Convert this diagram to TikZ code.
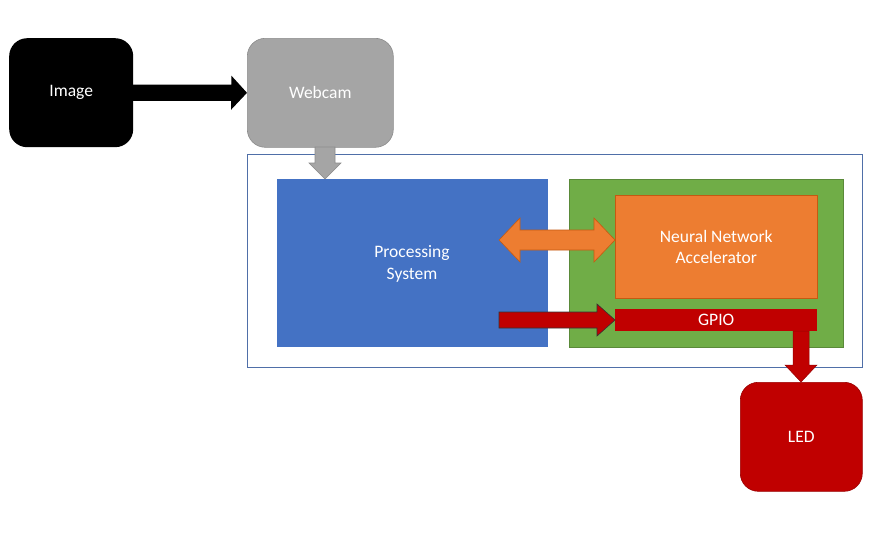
\documentclass[tikz,border=0pt]{standalone}
\usepackage{fontspec}
\setmainfont{Carlito}
\usetikzlibrary{calc}
\definecolor{cgray}{HTML}{A5A5A5}
\definecolor{cgrayd}{HTML}{8C8C8C}
\definecolor{cblue}{HTML}{4472C4}
\definecolor{cgreen}{HTML}{70AD47}
\definecolor{corange}{HTML}{ED7D31}
\definecolor{corangd}{HTML}{C55A11}
\definecolor{cred}{HTML}{C00000}
\definecolor{credd}{HTML}{8B0000}
\definecolor{cframe}{HTML}{4F6FA8}
\tikzset{
  lbl/.style={text=white, font=\fontsize{17.5}{21.5}\selectfont, align=center, inner sep=0pt},
  rbox/.style={rounded corners=18pt, minimum width=124pt, minimum height=109pt, lbl},
  sbox/.style={lbl, anchor=north west},
}
\begin{document}
\begin{tikzpicture}[x=1pt,y=-1pt]
\useasboundingbox[fill=white] (0,0) rectangle (879,547);
% outer frame
\node[draw=cframe, line width=0.8pt, anchor=north west, minimum width=615pt, minimum height=213pt, inner sep=0pt] (frame) at (247,154) {};
% top boxes
\node[rbox, fill=black, anchor=north west] (img) at (9,38) {Image};
\node[rbox, fill=cgray, draw=cgrayd, line width=0.6pt, anchor=north west, minimum width=146pt] (cam) at (247,38) {Webcam};
% processing system
\node[sbox, fill=cblue, minimum width=271pt, minimum height=168pt] (ps) at (277,179) {};
\node[lbl] at (412,264) {Processing\\System};
% green
\node[sbox, fill=cgreen, draw=cgreen!80!black, line width=0.4pt, minimum width=274pt, minimum height=168pt] (pl) at (569,179) {};
\node[sbox, fill=corange, draw=corangd, line width=0.5pt, minimum width=202pt, minimum height=103pt] (nna) at (615,195) {};
\node[lbl] at (nna.center) {Neural Network\\Accelerator};
\node[sbox, fill=cred, minimum width=202pt, minimum height=22pt] (gpio) at (615,309) {};
\node[lbl] at (gpio.center) {GPIO};
% LED
\node[rbox, fill=cred, draw=credd!70!cred, line width=0.6pt, anchor=north west, minimum width=122pt] (led) at (740,382) {LED};
% arrow image -> webcam
\fill[black] ($(img.east)+(-1,-8)$) -- ++(99,0) -- ++(0,-9) -- (cam.west) -- ++(-16,17) -- ++(0,-9) -- ++(-99,0) -- cycle;
% webcam -> PS
\filldraw[fill=cgray, draw=cgrayd, line width=0.6pt] (315,147) -- (335,147) -- (335,163) -- (341,163) -- (325,179) -- (309,163) -- (315,163) -- cycle;
% double arrow PS <-> NNA
\filldraw[fill=corange, draw=corangd, line width=0.6pt]
  (499,240) -- (520,218) -- (520,230) -- (594,230) -- (594,218) -- (615,240) -- (594,262) -- (594,250) -- (520,250) -- (520,262) -- cycle;
% PS -> GPIO
\filldraw[fill=cred, draw=black!80, line width=0.6pt]
  (499,312) -- (597,312) -- (597,304) -- (615,320) -- (597,336) -- (597,328) -- (499,328) -- cycle;
% GPIO -> LED
\filldraw[fill=cred, draw=credd!80!cred, line width=0.5pt]
  (793,331) -- (809,331) -- (809,365) -- (817,365) -- (801,382) -- (785,365) -- (793,365) -- cycle;
\end{tikzpicture}
\end{document}
